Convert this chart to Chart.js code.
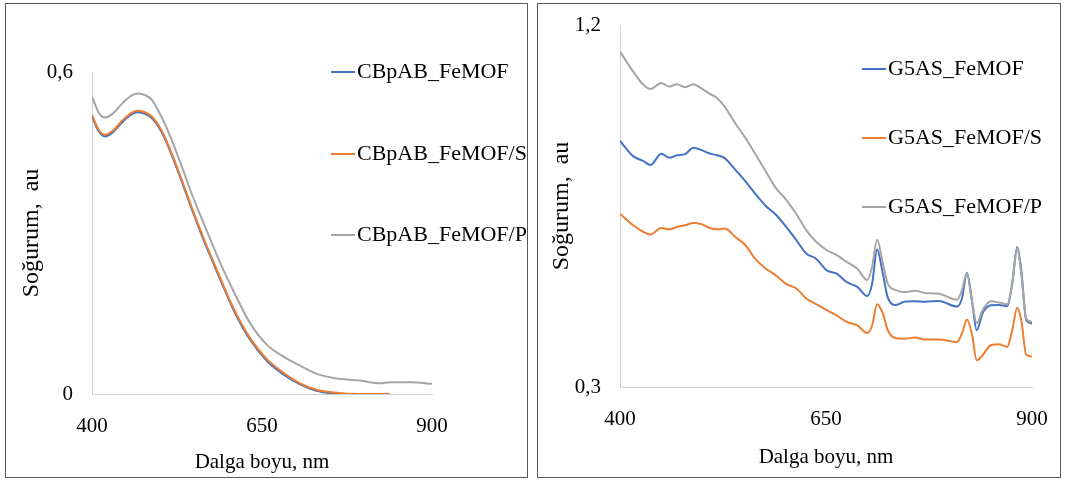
<!DOCTYPE html>
<html>
<head>
<meta charset="utf-8">
<script src="https://cdn.jsdelivr.net/npm/chart.js@4.4.1/dist/chart.umd.min.js"></script>
<style>
    body { margin: 0; background: #fff; width: 1065px; height: 480px; position: relative; overflow: hidden; }
    .panel { position: absolute; top: 3px; height: 475px; border: 1px solid #595959; box-sizing: border-box; }
    #p1 { left: 5px; width: 523px; }
    #p2 { left: 537px; width: 524px; }
</style>
</head>
<body>
<div class="panel" id="p1"><canvas id="leftChart"></canvas></div>
<div class="panel" id="p2"><canvas id="rightChart"></canvas></div>

<script>
// Sol grafik: CBpAB
const leftWl = [400, 410, 419, 430, 445, 458, 468, 478, 488, 502, 517, 532, 546, 561, 576, 590, 608, 632, 657, 681, 706, 730, 755, 794, 824, 838, 870, 900];
const leftBlue = [0.517, 0.489, 0.480, 0.487, 0.507, 0.521, 0.525, 0.522, 0.514, 0.489, 0.446, 0.396, 0.347, 0.297, 0.251, 0.209, 0.157, 0.102, 0.062, 0.037, 0.018, 0.006, 0.001, 0.000];
const leftOrange = [0.520, 0.492, 0.483, 0.490, 0.510, 0.524, 0.528, 0.525, 0.517, 0.492, 0.449, 0.399, 0.350, 0.300, 0.254, 0.212, 0.160, 0.105, 0.065, 0.040, 0.020, 0.008, 0.003, 0.000, 0.000, 0.000];
const leftGray = [0.554, 0.524, 0.515, 0.522, 0.542, 0.556, 0.560, 0.557, 0.548, 0.517, 0.474, 0.424, 0.375, 0.328, 0.282, 0.240, 0.192, 0.133, 0.092, 0.070, 0.053, 0.038, 0.030, 0.025, 0.020, 0.022, 0.022, 0.019];
const leftLabels = ['CBpAB_FeMOF', 'CBpAB_FeMOF/S', 'CBpAB_FeMOF/P'];
const leftXTicks = [400, 650, 900];
const leftYTicks = [0, 0.6];

// Sağ grafik: G5AS
const rightWl = [400, 416, 428, 437, 450, 460, 469, 479, 489, 499, 508, 518, 527, 540, 552, 564, 577, 589, 601, 614, 626, 638, 651, 663, 675, 688, 700, 706, 712, 719, 725, 735, 745, 758, 770, 787, 809, 815, 821, 827, 833, 840, 850, 860, 870, 876, 882, 887, 893, 900];
const rightBlue = [0.912, 0.874, 0.862, 0.852, 0.880, 0.870, 0.876, 0.879, 0.895, 0.889, 0.881, 0.876, 0.869, 0.840, 0.812, 0.781, 0.750, 0.729, 0.700, 0.665, 0.632, 0.619, 0.590, 0.582, 0.561, 0.549, 0.526, 0.557, 0.642, 0.582, 0.522, 0.504, 0.512, 0.513, 0.512, 0.514, 0.500, 0.520, 0.584, 0.516, 0.441, 0.483, 0.503, 0.504, 0.501, 0.557, 0.648, 0.590, 0.466, 0.458];
const rightOrange = [0.731, 0.702, 0.686, 0.679, 0.695, 0.692, 0.698, 0.702, 0.708, 0.705, 0.696, 0.692, 0.694, 0.673, 0.653, 0.619, 0.594, 0.578, 0.557, 0.545, 0.520, 0.506, 0.491, 0.478, 0.462, 0.453, 0.434, 0.453, 0.506, 0.483, 0.441, 0.421, 0.420, 0.423, 0.418, 0.418, 0.412, 0.433, 0.468, 0.433, 0.366, 0.379, 0.404, 0.406, 0.400, 0.441, 0.497, 0.466, 0.380, 0.376];
const rightGray = [1.134, 1.084, 1.052, 1.041, 1.056, 1.047, 1.053, 1.045, 1.053, 1.042, 1.030, 1.018, 0.997, 0.955, 0.920, 0.880, 0.836, 0.795, 0.767, 0.730, 0.690, 0.661, 0.640, 0.628, 0.611, 0.594, 0.566, 0.599, 0.667, 0.607, 0.557, 0.541, 0.536, 0.539, 0.534, 0.532, 0.517, 0.541, 0.584, 0.516, 0.458, 0.491, 0.513, 0.510, 0.506, 0.557, 0.646, 0.582, 0.470, 0.462];
const rightLabels = ['G5AS_FeMOF', 'G5AS_FeMOF/S', 'G5AS_FeMOF/P'];
const rightXTicks = [400, 650, 900];
const rightYTicks = [0.3, 1.2];

const colors = ['#4472C4', '#ED7D31', '#A5A5A5'];
const serif = '"Liberation Serif", "Times New Roman", serif';

Chart.defaults.font.family = serif;
Chart.defaults.color = '#000';

function toPoints(xs, ys) {
    return ys.map((y, i) => ({ x: xs[i], y: y }));
}

function commaLabel(v) {
    return String(v).replace('.', ',');
}

// tick etiketlerinin grafik alanını küçültmesini engelle
function noLabelPadding(axis) {
    axis.paddingTop = 0;
    axis.paddingBottom = 0;
    axis.paddingLeft = 0;
    axis.paddingRight = 0;
}

// Excel tarzı lejant: çizgi + metin, grafik alanının üstünde
const lineLegend = {
    id: 'lineLegend',
    afterDraw(chart, args, opts) {
        const ctx = chart.ctx;
        ctx.save();
        ctx.font = opts.font;
        ctx.textBaseline = 'middle';
        chart.data.datasets.forEach((ds, i) => {
            const y = opts.y[i];
            ctx.strokeStyle = ds.borderColor;
            ctx.lineWidth = 2;
            ctx.beginPath();
            ctx.moveTo(opts.x, y);
            ctx.lineTo(opts.x + opts.len, y);
            ctx.stroke();
            ctx.fillStyle = '#000';
            ctx.fillText(ds.label, opts.x + opts.len + 2, y);
        });
        ctx.restore();
    }
};

function makeChart(id, cfg) {
    const datasets = cfg.series.map((s, i) => ({
        label: cfg.labels[i],
        data: toPoints(cfg.wl, s),
        borderColor: colors[i],
        backgroundColor: colors[i],
        borderWidth: 2,
        pointRadius: 0,
        cubicInterpolationMode: 'monotone',
        order: 2 - i
    }));

    return new Chart(document.getElementById(id), {
        type: 'line',
        data: { datasets: datasets },
        options: {
            responsive: true,
            maintainAspectRatio: false,
            devicePixelRatio: 1,
            animation: false,
            layout: { padding: { top: cfg.area.top, right: cfg.area.right, left: 0, bottom: 0 } },
            plugins: {
                legend: { display: false },
                tooltip: { enabled: false },
                lineLegend: cfg.legend
            },
            scales: {
                x: {
                    type: 'linear',
                    min: cfg.xTicks[0],
                    max: cfg.xTicks[cfg.xTicks.length - 1],
                    afterBuildTicks: axis => { axis.ticks = cfg.xTicks.map(v => ({ value: v })); },
                    afterFit: axis => { axis.height = cfg.area.xh; noLabelPadding(axis); },
                    grid: { display: false, drawTicks: false },
                    border: { display: true, color: '#d0d0d0', width: 1 },
                    ticks: { font: { size: 21 }, padding: cfg.area.xpad, maxRotation: 0 },
                    title: { display: true, text: 'Dalga boyu, nm', font: { size: 21 }, padding: { top: 0, bottom: cfg.area.xtb } }
                },
                y: {
                    min: cfg.yTicks[0],
                    max: cfg.yTicks[cfg.yTicks.length - 1],
                    afterBuildTicks: axis => { axis.ticks = cfg.yTicks.map(v => ({ value: v })); },
                    afterFit: axis => { axis.width = cfg.area.left; noLabelPadding(axis); },
                    grid: { display: false, drawTicks: false },
                    border: { display: true, color: '#d0d0d0', width: 1 },
                    ticks: { font: { size: 21 }, padding: 19, callback: commaLabel },
                    title: { display: true, text: 'Soğurum,  au', font: { size: 24 }, padding: { top: cfg.area.ytp, bottom: 0 } }
                }
            }
        },
        plugins: [lineLegend]
    });
}

makeChart('leftChart', {
    wl: leftWl,
    series: [leftBlue, leftOrange, leftGray],
    labels: leftLabels,
    xTicks: leftXTicks,
    yTicks: leftYTicks,
    area: { top: 68, right: 95, left: 86, xh: 83, xpad: 20, xtb: 2, ytp: 11 },
    legend: { x: 325, len: 24, y: [68, 150, 231], font: '22px ' + serif }
});

makeChart('rightChart', {
    wl: rightWl,
    series: [rightBlue, rightOrange, rightGray],
    labels: rightLabels,
    xTicks: rightXTicks,
    yTicks: rightYTicks,
    area: { top: 21, right: 28, left: 82, xh: 90, xpad: 20, xtb: 7, ytp: 9 },
    legend: { x: 324, len: 24, y: [65, 134, 203], font: '22px ' + serif }
});
</script>
</body>
</html>
